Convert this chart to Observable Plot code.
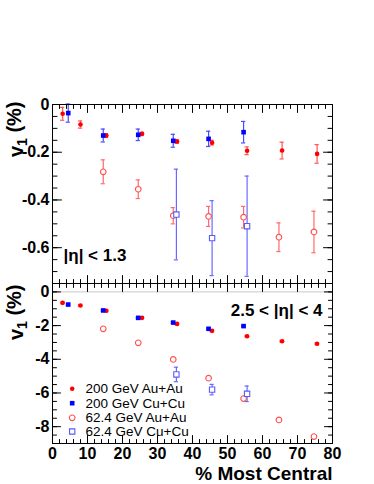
<!DOCTYPE html>
<html><head><meta charset="utf-8">
<script src="https://cdn.jsdelivr.net/npm/d3@7"></script>
<script src="https://cdn.jsdelivr.net/npm/@observablehq/plot@0.6"></script>
<style>
body{margin:0;background:#fff;}
#wrap{position:relative;width:374px;height:484px;font-family:"Liberation Sans",Arial,Helvetica,sans-serif;}
#wrap svg{position:absolute;left:0;background:transparent !important;overflow:visible;}
</style></head><body><div id="wrap"></div>
<script>
// ---- data ----
const seriesNames = ["200 GeV Au+Au", "200 GeV Cu+Cu", "62.4 GeV Au+Au", "62.4 GeV Cu+Cu"];

const xAuAu200 = [2.9, 8.0, 15.4, 25.6, 35.6, 45.6, 55.6, 65.6, 75.6];
const midAuAu200 = [-0.039, -0.084, -0.130, -0.123, -0.155, -0.160, -0.194, -0.193, -0.207];
const midErrAuAu200 = [0.027, 0.015, 0.008, 0.007, 0.008, 0.010, 0.016, 0.035, 0.039];
const fwdAuAu200 = [-0.65, -0.81, -1.12, -1.54, -1.90, -2.31, -2.63, -2.93, -3.08];
const fwdErrAuAu200 = [0.05, 0.05, 0.05, 0.05, 0.05, 0.05, 0.05, 0.05, 0.05];

const xCuCu200 = [4.5, 14.5, 24.5, 34.5, 44.6, 54.6];
const midCuCu200 = [-0.036, -0.130, -0.127, -0.152, -0.144, -0.116];
const midErrCuCu200 = [0.038, 0.027, 0.024, 0.027, 0.032, 0.045];
const fwdCuCu200 = [-0.75, -1.10, -1.54, -1.82, -2.19, -2.03];
const fwdErrCuCu200 = [0.05, 0.05, 0.05, 0.05, 0.05, 0.05];

const xAuAu62 = [14.5, 24.5, 34.5, 44.6, 54.6, 64.7, 74.7];
const midAuAu62 = [-0.282, -0.355, -0.466, -0.469, -0.472, -0.556, -0.534];
const midErrAuAu62 = [0.050, 0.039, 0.034, 0.042, 0.045, 0.060, 0.087];
const fwdAuAu62 = [-2.19, -3.02, -4.01, -5.12, -6.33, -7.60, -8.59];
const fwdErrAuAu62 = [0.05, 0.05, 0.05, 0.05, 0.05, 0.05, 0.05];

const xCuCu62 = [35.4, 45.6, 55.6];
const midCuCu62 = [-0.461, -0.560, -0.510];
const midErrCuCu62 = [0.19, 0.157, 0.21];
const fwdCuCu62 = [-4.90, -5.80, -6.05];
const fwdErrCuCu62 = [0.43, 0.31, 0.46];

const xTicks = [0, 10, 20, 30, 40, 50, 60, 70, 80];
const midTicks = [0, -0.2, -0.4, -0.6];
const fwdTicks = [0, -2, -4, -6, -8];
const xLabel = "% Most Central";
const yLabel = "v1 (%)";
const midLabel = "|\u03b7| < 1.3";
const fwdLabel = "2.5 < |\u03b7| < 4";

// ---- styles ----
const styles = [
  {symbol: "circle", fill: "#ff0000", stroke: "none", bar: "#ff5555", r: 2.3},
  {symbol: "square", fill: "#0000ff", stroke: "none", bar: "#4a4aff", r: 2.6},
  {symbol: "circle", fill: "white", stroke: "#ff5050", bar: "#ff6a6a", r: 2.8},
  {symbol: "square", fill: "white", stroke: "#5a5aff", bar: "#6a6aff", r: 3.0}
];
const raw = [
  [xAuAu200, midAuAu200, midErrAuAu200, fwdAuAu200, fwdErrAuAu200],
  [xCuCu200, midCuCu200, midErrCuCu200, fwdCuCu200, fwdErrCuCu200],
  [xAuAu62, midAuAu62, midErrAuAu62, fwdAuAu62, fwdErrAuAu62],
  [xCuCu62, midCuCu62, midErrCuCu62, fwdCuCu62, fwdErrCuCu62]
];
const rows = raw.map(([xs, mv, me, fv, fe], s) =>
  xs.map((x, i) => ({s, x, mid: mv[i], midErr: me[i], fwd: fv[i], fwdErr: fe[i]})));

const font = '"Liberation Sans", Arial, Helvetica, sans-serif';
const tickShape = {draw(c, l) { c.moveTo(0, 0); c.lineTo(0, -l); }};
const xMinor = d3.range(0, 80.001, 2);

function tickMarks(yMajor, yMinor, majLen, minLen) {
  const v = (data, o) => Plot.vector(data, {...o, shape: tickShape, anchor: "start", stroke: "black", strokeWidth: 1});
  return [
    v(yMajor, {y: d => d, frameAnchor: "left", rotate: 90, length: majLen}),
    v(yMinor, {y: d => d, frameAnchor: "left", rotate: 90, length: minLen}),
    v(yMajor, {y: d => d, frameAnchor: "right", rotate: -90, length: majLen}),
    v(yMinor, {y: d => d, frameAnchor: "right", rotate: -90, length: minLen}),
    v(xTicks, {x: d => d, frameAnchor: "top", rotate: 180, length: 8}),
    v(xMinor, {x: d => d, frameAnchor: "top", rotate: 180, length: 4}),
    v(xTicks, {x: d => d, frameAnchor: "bottom", rotate: 0, length: 8}),
    v(xMinor, {x: d => d, frameAnchor: "bottom", rotate: 0, length: 4})
  ];
}

function dataMarks(vk, ek) {
  const marks = [];
  const capW = 0.6;
  rows.forEach((rs, s) => {
    const st = styles[s];
    marks.push(Plot.ruleX(rs, {x: "x", y1: d => d[vk] - d[ek], y2: d => d[vk] + d[ek], stroke: st.bar, strokeWidth: 1.2}));
    marks.push(Plot.ruleY(rs, {y: d => d[vk] - d[ek], x1: d => d.x - capW, x2: d => d.x + capW, stroke: st.bar, strokeWidth: 1.2}));
    marks.push(Plot.ruleY(rs, {y: d => d[vk] + d[ek], x1: d => d.x - capW, x2: d => d.x + capW, stroke: st.bar, strokeWidth: 1.2}));
  });
  rows.forEach((rs, s) => {
    const st = styles[s];
    marks.push(Plot.dot(rs, {x: "x", y: vk, symbol: () => st.symbol, fill: st.fill, stroke: st.stroke, strokeWidth: 1.1, r: st.r}));
  });
  return marks;
}

const fmt = d => (d === 0 ? "0" : String(d));

// ---- top panel ----
const topPlot = Plot.plot({
  width: 374, height: 284,
  marginLeft: 52, marginRight: 42, marginTop: 104, marginBottom: 1,
  style: {fontFamily: font, background: "transparent", overflow: "visible"},
  symbol: {type: "identity"},
  x: {domain: [0, 80]},
  y: {domain: [-0.75, 0]},
  marks: [
    Plot.axisY(midTicks, {anchor: "left", tickSize: 0, tickPadding: 3, tickFormat: fmt, fontSize: 16, fontWeight: "bold", label: null}),
    Plot.axisX({ticks: [], label: null, tickSize: 0}),
    ...dataMarks("mid", "midErr"),
    ...tickMarks(midTicks, d3.range(-0.75, 0.001, 0.05).map(d => +d.toFixed(2)), 9, 4.5),
    Plot.frame({stroke: "black", strokeWidth: 1}),
    Plot.text([midLabel], {frameAnchor: "bottom-left", dx: 11, dy: -28, textAnchor: "start", lineAnchor: "middle", fontSize: 17, fontWeight: "bold", fill: "black"}),
    Plot.text([yLabel], {frameAnchor: "top-left", dx: -36, dy: -3, rotate: -90, textAnchor: "end", lineAnchor: "middle", fontSize: 20, fontWeight: "bold", fill: "black", className: "ylab"})
  ]
});

// ---- bottom panel ----
const legendMarks = [];
const legendDy = [-54.7, -40.3, -25.7, -12];
seriesNames.forEach((name, s) => {
  const st = styles[s];
  legendMarks.push(Plot.dot([name], {frameAnchor: "bottom-left", dx: 19.7, dy: legendDy[s], symbol: () => st.symbol, fill: st.fill, stroke: st.stroke, strokeWidth: 1.1, r: st.r}));
  legendMarks.push(Plot.text([name], {frameAnchor: "bottom-left", dx: 33, dy: legendDy[s], text: d => d, textAnchor: "start", lineAnchor: "middle", fontSize: 13.5, fill: "black"}));
});

const bottomPlot = Plot.plot({
  width: 374, height: 201,
  marginLeft: 52, marginRight: 42, marginTop: 0, marginBottom: 41,
  style: {fontFamily: font, background: "transparent", overflow: "visible"},
  symbol: {type: "identity"},
  x: {domain: [0, 80]},
  y: {domain: [-9, 0.5]},
  marks: [
    Plot.ruleY([0], {stroke: "#c8c8c8", strokeWidth: 1}),
    Plot.axisY(fwdTicks, {anchor: "left", tickSize: 0, tickPadding: 3, tickFormat: fmt, fontSize: 16, fontWeight: "bold", label: null}),
    Plot.axisX(xTicks, {anchor: "bottom", tickSize: 0, tickPadding: 4, tickFormat: fmt, fontSize: 16, fontWeight: "bold", label: null}),
    ...dataMarks("fwd", "fwdErr"),
    ...tickMarks(fwdTicks, d3.range(-9, 0.501, 0.5), 8, 4),
    Plot.frame({stroke: "black", strokeWidth: 1}),
    Plot.text([fwdLabel], {frameAnchor: "top-right", dx: -10, dy: 27, textAnchor: "end", lineAnchor: "middle", fontSize: 17, fontWeight: "bold", fill: "black"}),
    Plot.text([xLabel], {frameAnchor: "bottom-right", dy: 30, textAnchor: "end", lineAnchor: "middle", fontSize: 19, fontWeight: "bold", fill: "black"}),
    Plot.text([yLabel], {frameAnchor: "top-left", dx: -36, dy: 1, rotate: -90, textAnchor: "end", lineAnchor: "middle", fontSize: 20, fontWeight: "bold", fill: "black", className: "ylab"}),
    ...legendMarks
  ]
});

topPlot.style.top = "0px";
bottomPlot.style.top = "283px";
const wrap = document.getElementById("wrap");
wrap.append(topPlot, bottomPlot);

// subscript "1" in the y labels
d3.select(wrap).selectAll(".ylab text").each(function () {
  const t = d3.select(this);
  t.text(null);
  t.append("tspan").text("v");
  t.append("tspan").attr("dy", "0.3em").attr("font-size", "14px").text("1");
  t.append("tspan").attr("dy", "-0.3em").text(" (%)");
});
</script></body></html>
